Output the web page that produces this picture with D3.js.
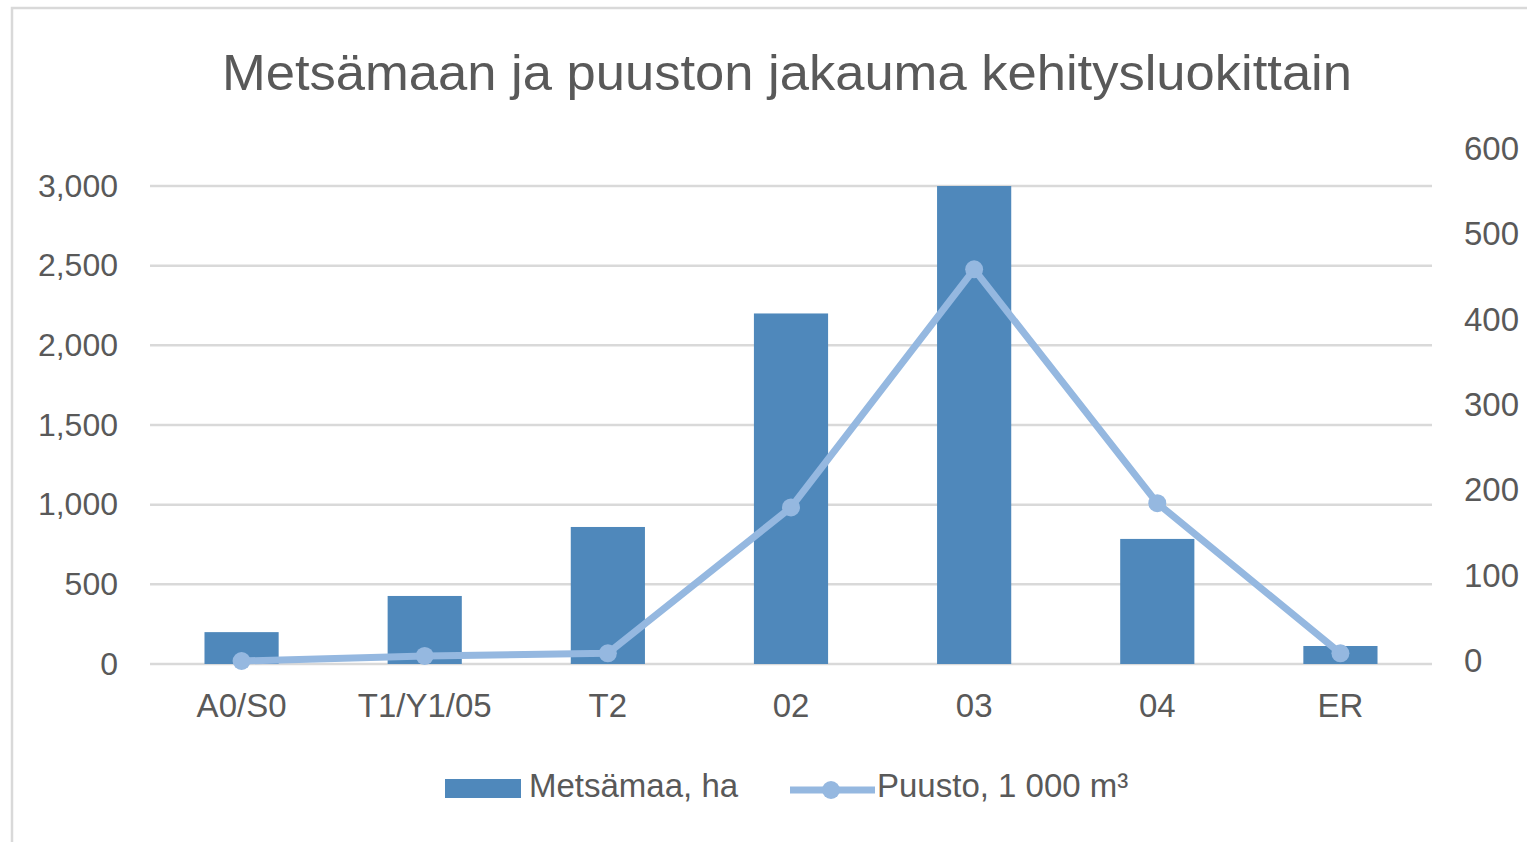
<!DOCTYPE html>
<html>
<head>
<meta charset="utf-8">
<script src="https://cdn.jsdelivr.net/npm/d3@7"></script>
<style>
  body { margin: 0; background: #fff; }
  text { font-family: "Liberation Sans", Arial, sans-serif; fill: #595959; }
</style>
</head>
<body>
<svg id="chart" width="1527" height="842"></svg>
<script>
// data
var categories = ["A0/S0", "T1/Y1/05", "T2", "02", "03", "04", "ER"];
var metsamaa = [200, 427, 860, 2200, 3000, 785, 113];   // ha, left axis
var puusto = [0, 6, 9, 180, 459, 185, 9];               // 1 000 m3, right axis
var leftTicks = [0, 500, 1000, 1500, 2000, 2500, 3000];
var rightTicks = [0, 100, 200, 300, 400, 500, 600];

var title = "Metsämaan ja puuston jakauma kehitysluokittain";
var barName = "Metsämaa, ha";
var lineName = "Puusto, 1 000 m³";

var barColor = "#4f88bb",
    lineColor = "#95b8e0",
    gridColor = "#d9d9d9";

var svg = d3.select("#chart");

// chart frame (only top and left edges visible)
svg.append("rect")
  .attr("x", 12).attr("y", 8)
  .attr("width", 1600).attr("height", 900)
  .attr("fill", "#fff")
  .attr("stroke", "#d9d9d9").attr("stroke-width", 2.5);

svg.append("text")
  .attr("x", 787).attr("y", 90)
  .attr("text-anchor", "middle")
  .attr("font-size", 50)
  .attr("textLength", 1130)
  .attr("lengthAdjust", "spacingAndGlyphs")
  .text(title);

var x = d3.scaleBand().domain(categories).range([150, 1432]).paddingInner(0.595).paddingOuter(0.2975);
var y = d3.scaleLinear().domain([0, 3000]).range([664, 186]);
var y2 = d3.scaleLinear().domain([0, 600]).range([661, 149]);

// grid
svg.append("g").selectAll("line")
  .data(leftTicks)
  .enter().append("line")
  .attr("x1", 150).attr("x2", 1432)
  .attr("y1", function(d) { return y(d); })
  .attr("y2", function(d) { return y(d); })
  .attr("stroke", gridColor)
  .attr("stroke-width", 2.5);

// left axis labels
var left = svg.append("g")
  .attr("transform", "translate(130,0)")
  .call(d3.axisLeft(y).tickValues(leftTicks).tickSize(0).tickPadding(12).tickFormat(d3.format(",")));
left.select(".domain").remove();
left.selectAll("text").attr("font-size", 32).attr("font-family", null).attr("fill", "#595959");

// right axis labels
var right = svg.append("g")
  .attr("transform", "translate(1452,0)")
  .call(d3.axisRight(y2).tickValues(rightTicks).tickSize(0).tickPadding(12));
right.select(".domain").remove();
right.selectAll("text").attr("font-size", 33).attr("font-family", null).attr("fill", "#595959");

// x axis labels
var bottom = svg.append("g")
  .attr("transform", "translate(0,664)")
  .call(d3.axisBottom(x).tickSize(0).tickPadding(30));
bottom.select(".domain").remove();
bottom.selectAll("text").attr("font-size", 33).attr("font-family", null).attr("fill", "#595959");

// bars
svg.append("g").selectAll("rect")
  .data(metsamaa)
  .enter().append("rect")
  .attr("x", function(d, i) { return x(categories[i]); })
  .attr("y", function(d) { return y(d); })
  .attr("width", x.bandwidth())
  .attr("height", function(d) { return y(0) - y(d); })
  .attr("fill", barColor);

// line
var line = d3.line()
  .x(function(d, i) { return x(categories[i]) + x.bandwidth() / 2; })
  .y(function(d) { return y2(d); });

svg.append("path")
  .datum(puusto)
  .attr("d", line)
  .attr("fill", "none")
  .attr("stroke", lineColor)
  .attr("stroke-width", 7)
  .attr("stroke-linejoin", "round");

svg.append("g").selectAll("circle")
  .data(puusto)
  .enter().append("circle")
  .attr("cx", function(d, i) { return x(categories[i]) + x.bandwidth() / 2; })
  .attr("cy", function(d) { return y2(d); })
  .attr("r", 9)
  .attr("fill", lineColor);

// legend
var lg = svg.append("g");
lg.append("rect")
  .attr("x", 445).attr("y", 779).attr("width", 76).attr("height", 19)
  .attr("fill", barColor);
lg.append("text")
  .attr("x", 529).attr("y", 797)
  .attr("font-size", 33)
  .text(barName);
lg.append("line")
  .attr("x1", 790).attr("x2", 875).attr("y1", 790).attr("y2", 790)
  .attr("stroke", lineColor).attr("stroke-width", 7);
lg.append("circle")
  .attr("cx", 831).attr("cy", 790).attr("r", 9)
  .attr("fill", lineColor);
lg.append("text")
  .attr("x", 877).attr("y", 797)
  .attr("font-size", 33)
  .text(lineName);
</script>
</body>
</html>
